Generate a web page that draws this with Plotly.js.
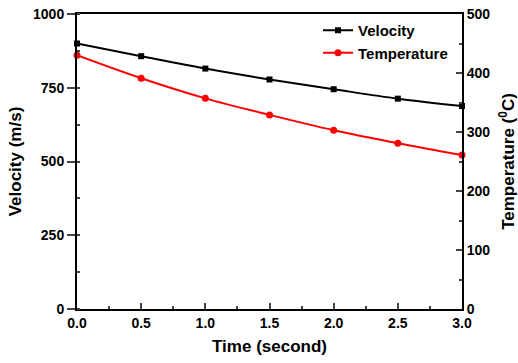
<!DOCTYPE html>
<html>
<head>
<meta charset="utf-8">
<script src="https://cdn.plot.ly/plotly-3.0.1.min.js"></script>
<style>html,body{margin:0;padding:0;background:#fff;}#chart{width:518px;height:363px;}</style>
</head>
<body>
<div id="chart"></div>
<script>
const time = [0.0, 0.5, 1.0, 1.5, 2.0, 2.5, 3.0];
const velocity = [900, 857, 815, 778, 745, 713, 688];
const temperature = [430, 391, 357, 329, 303, 281, 261];

const font = {family: 'Liberation Sans, Arial, sans-serif', size: 14, color: '#000', weight: 'bold'};
const titleFont = {family: 'Liberation Sans, Arial, sans-serif', size: 17, color: '#000', weight: 'bold'};

const traces = [
  {x: time, y: velocity, name: 'Velocity', type: 'scatter', mode: 'lines+markers',
   line: {color: '#000', width: 2, shape: 'spline'}, marker: {symbol: 'square', size: 6, color: '#000'}, yaxis: 'y', cliponaxis: false},
  {x: time, y: temperature, name: 'Temperature', type: 'scatter', mode: 'lines+markers',
   line: {color: '#ff0000', width: 2, shape: 'spline'}, marker: {symbol: 'circle', size: 7, color: '#ff0000'}, yaxis: 'y2', cliponaxis: false}
];

const layout = {
  width: 518, height: 363,
  margin: {l: 77, r: 56, t: 14, b: 54},
  paper_bgcolor: '#fff', plot_bgcolor: '#fff',
  showlegend: true,
  legend: {x: 0.626, y: 1.0, xanchor: 'left', yanchor: 'top', bgcolor: 'rgba(0,0,0,0)',
           font: {family: 'Liberation Sans, Arial, sans-serif', size: 15, color: '#000', weight: 'bold'}, tracegroupgap: 0},
  xaxis: {range: [0, 3.0], dtick: 0.5, tick0: 0, tickformat: '.1f', ticks: 'inside', ticklen: 6, tickwidth: 2,
          minor: {ticks: 'inside', dtick: 0.25, ticklen: 3, tickwidth: 2}, showline: true, linewidth: 2, linecolor: '#000',
          mirror: true, showgrid: false, zeroline: false, tickfont: font,
          title: {text: 'Time (second)', font: titleFont, standoff: 10}},
  yaxis: {range: [0, 1000], dtick: 250, ticks: 'outside', ticklen: 8, tickwidth: 2,
          minor: {ticks: 'inside', dtick: 125, ticklen: 3, tickwidth: 2}, showline: true, linewidth: 2, linecolor: '#000',
          showgrid: false, zeroline: false, tickfont: font,
          title: {text: 'Velocity (m/s)', font: titleFont, standoff: 7}},
  yaxis2: {range: [0, 500], dtick: 100, overlaying: 'y', side: 'right', ticks: 'inside', ticklen: 6, tickwidth: 2,
           minor: {ticks: 'inside', dtick: 50, ticklen: 3, tickwidth: 2}, showline: true, linewidth: 2, linecolor: '#000',
           showgrid: false, zeroline: false, tickfont: font,
           title: {text: 'Temperature (<sup>0</sup>C)', font: titleFont, standoff: 14}}
};

Plotly.newPlot('chart', traces, layout, {displayModeBar: false, staticPlot: true});
</script>
</body>
</html>
